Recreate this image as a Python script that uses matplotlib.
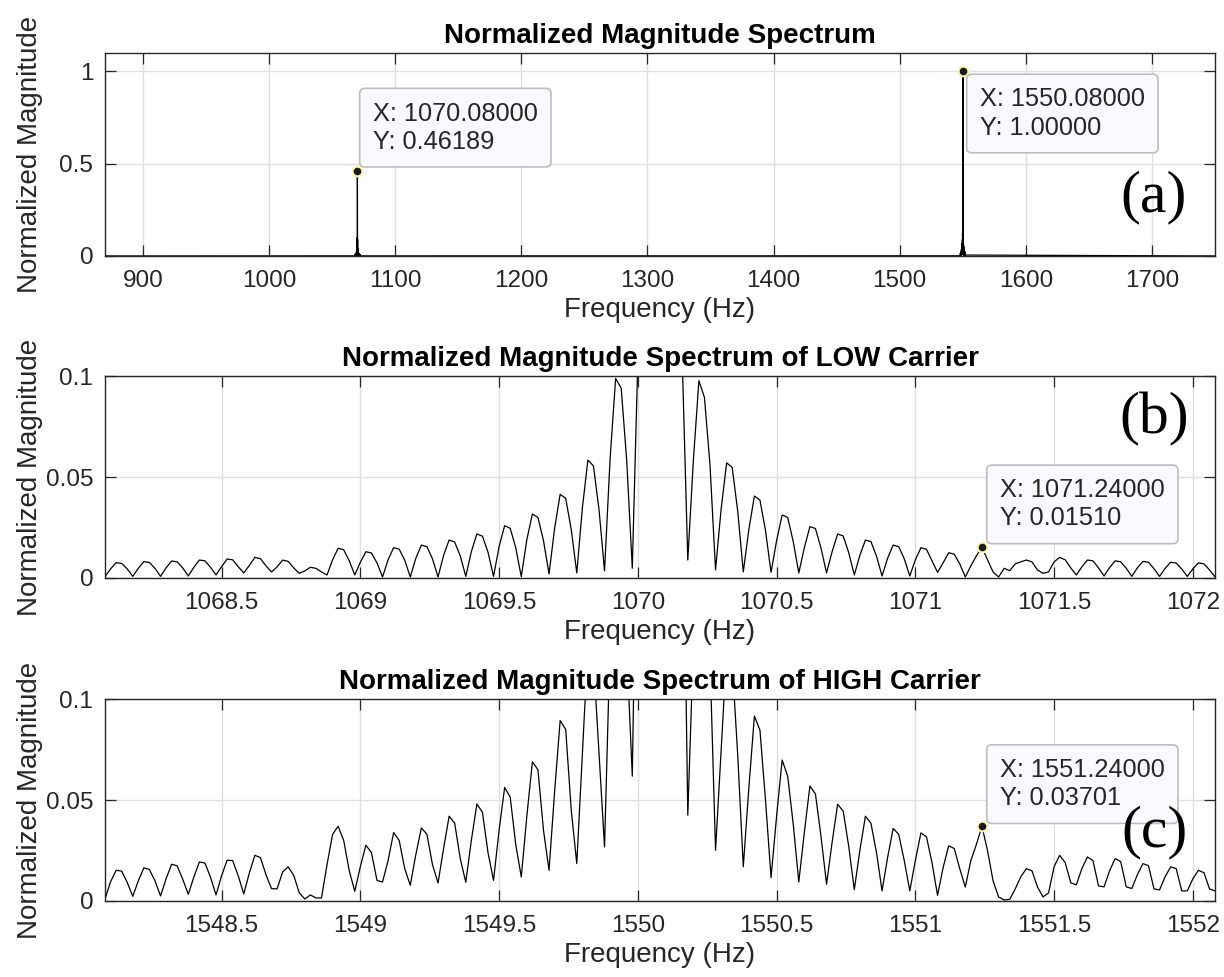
import numpy as np
import matplotlib
matplotlib.use("Agg")
import matplotlib.pyplot as plt
from matplotlib.ticker import FuncFormatter

plt.rcParams["font.family"] = ["Liberation Sans", "DejaVu Sans"]

# DFT bins are 0.02 Hz apart; 201 bins (+-2 Hz) around each carrier
BIN_HZ = 0.02
LOW_START = 1068.08
HIGH_START = 1548.08

# normalized magnitude per bin, in units of 1e-4
low_mag = [
    7, 45, 76, 72, 45, 8, 48, 81, 77, 48, 8, 50, 84, 80, 50, 10, 53, 89, 85, 53,
    15, 56, 94, 90, 56, 25, 62, 102, 96, 60, 30, 55, 89, 82, 50, 23, 35, 53, 48, 30,
    15, 90, 147, 140, 85, 15, 78, 130, 124, 75, 5, 90, 150, 143, 88, 5, 98, 163, 155, 95,
    5, 112, 188, 178, 110, 8, 130, 218, 207, 128, 8, 155, 259, 246, 150, 6, 190, 317, 300, 185,
    20, 245, 414, 395, 240, 25, 345, 584, 555, 340, 35, 590, 988, 940, 580, 48, 1080, 2330, 3500, 4320,
    4619, 4320, 3500, 2330, 1080, 89, 580, 977, 894, 560, 40, 340, 570, 548, 330, 30, 240, 406, 386, 235,
    28, 185, 312, 300, 180, 25, 150, 254, 245, 148, 25, 130, 218, 208, 125, 15, 112, 188, 180, 108,
    10, 98, 163, 155, 95, 10, 90, 150, 142, 85, 28, 75, 125, 118, 70, 5, 60, 110, 151, 90,
    30, 5, 48, 36, 70, 80, 89, 80, 40, 23, 30, 80, 102, 90, 50, 15, 55, 89, 85, 50,
    10, 52, 85, 80, 48, 8, 50, 82, 78, 46, 8, 48, 78, 74, 44, 8, 45, 75, 70, 40,
    5,
]
high_mag = [
    10, 95, 152, 148, 92, 23, 100, 164, 156, 100, 25, 110, 182, 174, 108, 33, 118, 193, 188, 118,
    30, 125, 202, 200, 125, 35, 138, 226, 215, 130, 61, 60, 144, 169, 127, 40, 10, 30, 15, 15,
    180, 330, 370, 300, 150, 48, 170, 276, 240, 102, 94, 200, 339, 300, 160, 78, 230, 362, 330, 180,
    89, 260, 420, 385, 210, 93, 300, 480, 440, 240, 102, 350, 562, 515, 280, 119, 420, 689, 650, 350,
    152, 540, 893, 850, 450, 185, 720, 1264, 1200, 735, 268, 1280, 2140, 2030, 1250, 618, 2340, 5040, 7580, 9350,
    10000, 9350, 7580, 5040, 2340, 425, 1260, 2115, 1935, 1200, 251, 740, 1234, 1180, 720, 170, 560, 916, 846, 500,
    116, 420, 698, 618, 380, 94, 340, 569, 530, 320, 83, 290, 479, 445, 270, 56, 250, 420, 385, 240,
    50, 215, 359, 330, 200, 50, 200, 337, 318, 190, 28, 165, 273, 260, 160, 69, 200, 280, 370, 250,
    100, 20, 5, 8, 60, 120, 160, 150, 70, 20, 40, 170, 226, 190, 90, 80, 160, 218, 200, 75,
    70, 150, 210, 195, 70, 62, 130, 185, 175, 60, 55, 120, 169, 160, 50, 50, 110, 152, 140, 60,
    50,
]

FULL_SPAN = (870.0, 1750.0)

# data tips: (x, y)
tip_low = (1070.08, 0.46189)
tip_high = (1550.08, 1.00000)
tip_low_side = (1071.24, 0.01510)
tip_high_side = (1551.24, 0.03701)

TXT = "#262626"
GRID = "#dfdfdf"

low_f = LOW_START + BIN_HZ * np.arange(len(low_mag))
high_f = HIGH_START + BIN_HZ * np.arange(len(high_mag))
low_y = np.array(low_mag) / 1e4
high_y = np.array(high_mag) / 1e4

full_f = np.concatenate([[FULL_SPAN[0]], low_f, high_f, [FULL_SPAN[1]]])
full_y = np.concatenate([[0.0], low_y, high_y, [0.0]])


def style(ax, xlim, ylim, xticks, yticks, title):
    ax.set_xlim(*xlim)
    ax.set_ylim(*ylim)
    ax.set_xticks(xticks)
    ax.set_yticks(yticks)
    fmt = FuncFormatter(lambda v, _: f"{v:g}")
    ax.xaxis.set_major_formatter(fmt)
    ax.yaxis.set_major_formatter(fmt)
    ax.grid(True, color=GRID, lw=1.0)
    ax.set_axisbelow(True)
    for s in ax.spines.values():
        s.set_color(TXT)
        s.set_linewidth(1.0)
    ax.tick_params(direction="in", length=8, width=0.9, top=True, right=True,
                   colors=TXT, labelsize=17.5)
    ax.tick_params(axis="x", pad=10)
    ax.tick_params(axis="y", pad=8.5)
    ax.set_title(title, fontsize=20, fontweight="bold", color="black", pad=7.5)
    ax.set_xlabel("Frequency (Hz)", fontsize=20, color=TXT, labelpad=4)
    ax.set_ylabel("Normalized Magnitude", fontsize=20, color=TXT)
    ax.yaxis.set_label_coords(-0.0555, 0.5)


def datatip(ax, x, y, dx, dy, above=True):
    ax.plot([x], [y], "o", ms=7, mfc="#1a1a1a", mec="#fff3b8", mew=1.5,
            zorder=6, clip_on=False)
    pad = 13
    txt = f"X: {x:.5f}\nY: {y:.5f}"
    box = dict(boxstyle="round,pad=0.52,rounding_size=0.2", fc="#f9f9fe",
               ec="#bdbdbd", lw=1.2)
    if above:
        ax.annotate(txt, (x, y), xytext=(dx + pad, dy + pad), textcoords="offset pixels",
                    ha="left", va="bottom", fontsize=18.3, color=TXT, linespacing=1.22,
                    bbox=box, zorder=7)
    else:
        ax.annotate(txt, (x, y), xytext=(dx + pad, dy - pad), textcoords="offset pixels",
                    ha="left", va="top", fontsize=18.3, color=TXT, linespacing=1.22,
                    bbox=box, zorder=7)


fig = plt.figure(figsize=(12.24, 9.77), dpi=100)
ax_a = fig.add_axes([0.0858, 0.738, 0.9069, 0.2078])
ax_b = fig.add_axes([0.0858, 0.4084, 0.9069, 0.2067])
ax_c = fig.add_axes([0.0858, 0.0778, 0.9069, 0.2067])

ax_a.plot(full_f, full_y, color="black", lw=0.9)
style(ax_a, FULL_SPAN, (0, 1.1), np.arange(900, 1701, 100), [0, 0.5, 1],
      "Normalized Magnitude Spectrum")
datatip(ax_a, *tip_low, 2.5, 4, above=True)
datatip(ax_a, *tip_high, 4, -3, above=False)

ax_b.plot(low_f, low_y, color="black", lw=0.9)
style(ax_b, (low_f[0], low_f[-1]), (0, 0.1), np.arange(1068.5, 1072.01, 0.5),
      [0, 0.05, 0.1], "Normalized Magnitude Spectrum of LOW Carrier")
datatip(ax_b, *tip_low_side, 5, 4, above=True)

ax_c.plot(high_f, high_y, color="black", lw=0.9)
style(ax_c, (high_f[0], high_f[-1]), (0, 0.1), np.arange(1548.5, 1552.01, 0.5),
      [0, 0.05, 0.1], "Normalized Magnitude Spectrum of HIGH Carrier")
datatip(ax_c, *tip_high_side, 5, 3, above=True)

for lbl, yc in (("(a)", 197), ("(b)", 419), ("(c)", 832)):
    fig.text(1154 / 1224, 1 - yc / 977, lbl, family=["Liberation Serif"], fontsize=43,
             ha="center", va="center", color="black")

fig.savefig("out.png", dpi=100)
